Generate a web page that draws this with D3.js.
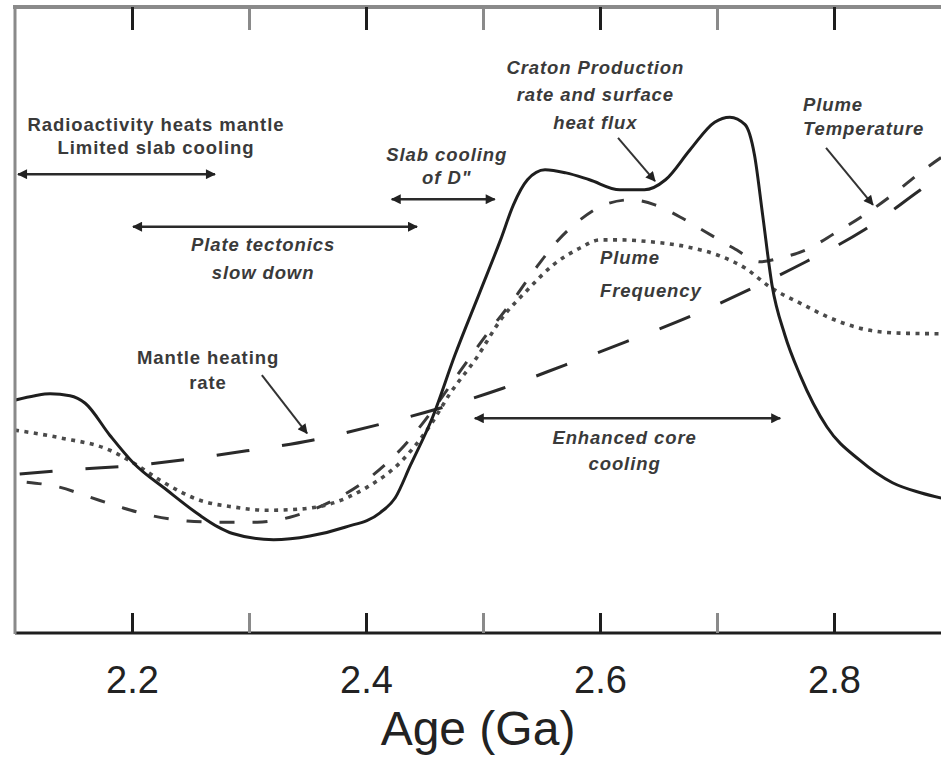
<!DOCTYPE html>
<html>
<head>
<meta charset="utf-8">
<script src="https://cdn.jsdelivr.net/npm/d3@7"></script>
<style>
  html, body { margin: 0; padding: 0; background: #fff; }
  svg { display: block; }
</style>
</head>
<body>
<div id="chart"></div>
<script>
/* Age (Ga) vs relative level — four model curves */

// ── data: [age Ga, relative level 0–100] ──
const cratonProduction = [
  [2.100, 37.2], [2.117, 37.9], [2.130, 38.2], [2.147, 37.9], [2.160, 36.7],
  [2.181, 31.6], [2.201, 27.2], [2.230, 22.8], [2.258, 18.8], [2.273, 17.0],
  [2.286, 15.9], [2.321, 14.9], [2.352, 15.5], [2.382, 16.9], [2.412, 19.2],
  [2.425, 21.6], [2.438, 26.8], [2.457, 34.5], [2.476, 44.4], [2.497, 54.3],
  [2.515, 62.8], [2.526, 68.4], [2.538, 72.4], [2.553, 74.0], [2.571, 73.5],
  [2.591, 72.4], [2.617, 70.8], [2.638, 70.8], [2.656, 72.4], [2.677, 77.2],
  [2.698, 81.6], [2.711, 82.4], [2.724, 81.2], [2.732, 76.4], [2.739, 66.8],
  [2.747, 55.6], [2.758, 47.6], [2.771, 41.2], [2.794, 32.9], [2.822, 27.6],
  [2.850, 24.0], [2.874, 22.4], [2.895, 21.4]
];
const plumeFrequency = [
  [2.100, 32.4], [2.138, 31.2], [2.181, 29.2], [2.201, 27.2], [2.224, 24.4],
  [2.258, 21.2], [2.288, 20.1], [2.315, 19.6], [2.344, 19.8], [2.369, 20.6],
  [2.401, 23.3], [2.429, 27.2], [2.455, 33.2], [2.472, 38.3], [2.495, 44.1],
  [2.515, 50.0], [2.538, 54.8], [2.560, 58.8], [2.583, 61.5], [2.600, 62.8],
  [2.617, 62.8], [2.643, 62.5], [2.674, 61.7], [2.703, 60.2], [2.724, 58.3],
  [2.745, 55.3], [2.771, 52.7], [2.797, 50.3], [2.822, 48.7], [2.856, 47.9],
  [2.895, 47.8]
];
const plumeTemperature = [
  [2.110, 24.1], [2.138, 23.3], [2.164, 21.7], [2.192, 20.0], [2.218, 18.7],
  [2.247, 17.9], [2.275, 17.7], [2.307, 17.7], [2.335, 18.5], [2.369, 20.9],
  [2.403, 24.8], [2.433, 30.0], [2.457, 35.6], [2.480, 41.7], [2.506, 48.4],
  [2.527, 53.5], [2.546, 58.5], [2.563, 62.5], [2.583, 66.0], [2.604, 68.4],
  [2.626, 69.2], [2.647, 68.4], [2.668, 66.5], [2.690, 64.1], [2.714, 61.5],
  [2.737, 59.3], [2.754, 59.9], [2.776, 61.2], [2.801, 63.9], [2.826, 66.8],
  [2.850, 70.0], [2.874, 73.6], [2.895, 76.4]
];
const mantleHeating = [
  [2.104, 25.4], [2.156, 26.2], [2.198, 26.7], [2.241, 27.6], [2.298, 29.1],
  [2.354, 30.8], [2.409, 33.2], [2.463, 35.9], [2.517, 39.1], [2.570, 42.8],
  [2.622, 46.5], [2.676, 50.5], [2.727, 54.8], [2.776, 59.3], [2.826, 64.4],
  [2.874, 70.8], [2.895, 73.6]
];

const majorTicks = [2.2, 2.4, 2.6, 2.8];
const minorTicks = [2.3, 2.5, 2.7];
const xLabel = 'Age (Ga)';

// ── annotations (placed in data units) ──
const labels = [
  { lines: ['Radioactivity heats mantle', 'Limited slab cooling'], age: 2.2205, lvl: [80.2, 76.5], italic: false, anchor: 'middle' },
  { lines: ['Plate tectonics', 'slow down'], age: 2.312, lvl: [61.0, 56.5], italic: true, anchor: 'middle' },
  { lines: ['Slab cooling', 'of D"'], age: 2.469, lvl: [75.4, 71.7], italic: true, anchor: 'middle' },
  { lines: ['Craton Production', 'rate and surface', 'heat flux'], age: 2.596, lvl: [89.3, 85.0, 80.5], italic: true, anchor: 'middle' },
  { lines: ['Plume', 'Temperature'], age: 2.7735, lvl: [83.4, 79.6], italic: true, anchor: 'start' },
  { lines: ['Plume', 'Frequency'], age: 2.600, lvl: [58.9, 53.7], italic: true, anchor: 'start' },
  { lines: ['Mantle heating', 'rate'], age: 2.265, lvl: [43.0, 39.0], italic: false, anchor: 'middle' },
  { lines: ['Enhanced core', 'cooling'], age: 2.621, lvl: [30.2, 26.0], italic: true, anchor: 'middle' }
];
// double-headed range arrows: [from age, to age, level]
const spans = [
  [2.1026, 2.2709, 73.3],
  [2.2009, 2.4436, 64.9],
  [2.4220, 2.5100, 69.3],
  [2.4930, 2.7540, 34.3]
];
// pointer arrows: [from age, from lvl, to age, to lvl]
const pointers = [
  [2.6154, 79.1, 2.6470, 72.2],
  [2.7932, 77.5, 2.8333, 68.4],
  [2.3110, 41.2, 2.3496, 31.9]
];

const W = 941, H = 758;
const x = d3.scaleLinear().domain([2.1, 2.9]).range([15, 951]);
const y = d3.scaleLinear().domain([0, 100]).range([633, 7]);

const svg = d3.select('#chart').append('svg')
  .attr('width', W).attr('height', H)
  .style('font-family', "'Liberation Sans', Arial, sans-serif");

const defs = svg.append('defs');
defs.append('marker')
  .attr('id', 'head')
  .attr('viewBox', '0 0 10 10')
  .attr('refX', 9).attr('refY', 5)
  .attr('markerUnits', 'userSpaceOnUse')
  .attr('markerWidth', 12).attr('markerHeight', 10)
  .attr('orient', 'auto-start-reverse')
  .append('path').attr('d', 'M0,0 L10,5 L0,10 z').attr('fill', '#222');
defs.append('clipPath').attr('id', 'plot')
  .append('rect').attr('x', 16).attr('y', 8).attr('width', W).attr('height', 624);

// ── curves ──
const line = d3.line()
  .x(d => x(d[0])).y(d => y(d[1]))
  .curve(d3.curveMonotoneX);

const curves = svg.append('g').attr('clip-path', 'url(#plot)');
const series = [
  { data: mantleHeating,    stroke: '#2a2a2a', width: 3,   dash: '33,33' },
  { data: plumeTemperature, stroke: '#3a3a3a', width: 3,   dash: '15,18' },
  { data: plumeFrequency,   stroke: '#4a4a4a', width: 3.6, dash: '4,5.5' },
  { data: cratonProduction, stroke: '#1e1e1e', width: 3,   dash: null }
];
curves.selectAll('path')
  .data(series)
  .join('path')
  .attr('d', d => line(d.data))
  .attr('fill', 'none')
  .attr('stroke', d => d.stroke)
  .attr('stroke-width', d => d.width)
  .attr('stroke-dasharray', d => d.dash);

// ── axes ──
const allTicks = [...majorTicks, ...minorTicks].sort();
const bottomAxis = svg.append('g')
  .attr('transform', `translate(0,${y(0)})`)
  .call(d3.axisBottom(x)
    .tickValues(allTicks)
    .tickSizeInner(-20).tickSizeOuter(0)
    .tickPadding(33)
    .tickFormat(d => majorTicks.includes(d) ? d3.format('.1f')(d) : ''));
bottomAxis.select('.domain').attr('stroke', '#1e1e1e').attr('stroke-width', 3)
  .attr('d', `M${x(2.1)},0H${W}`);
bottomAxis.selectAll('.tick line')
  .attr('stroke', d => majorTicks.includes(d) ? '#1e1e1e' : '#8a8a8a')
  .attr('stroke-width', 3);
bottomAxis.selectAll('.tick text')
  .attr('fill', '#222')
  .attr('font-size', 38)
  .attr('font-family', "'Liberation Sans', Arial, sans-serif");

const topAxis = svg.append('g')
  .attr('transform', `translate(0,${y(100)})`)
  .call(d3.axisTop(x)
    .tickValues(allTicks)
    .tickSizeInner(-23).tickSizeOuter(0)
    .tickFormat(''));
topAxis.select('.domain').attr('stroke', '#8a8a8a').attr('stroke-width', 4)
  .attr('d', `M${x(2.1) - 2},0H${W}`);
topAxis.selectAll('.tick line')
  .attr('stroke', d => majorTicks.includes(d) ? '#1e1e1e' : '#8a8a8a')
  .attr('stroke-width', 3);

svg.append('line')
  .attr('x1', x(2.1)).attr('x2', x(2.1))
  .attr('y1', y(100) - 2).attr('y2', y(0) + 1)
  .attr('stroke', '#8a8a8a').attr('stroke-width', 3);

svg.append('text')
  .attr('x', (x(2.1) + W) / 2).attr('y', 745)
  .attr('text-anchor', 'middle')
  .attr('font-size', 48)
  .attr('fill', '#222')
  .text(xLabel);

// ── range arrows ──
svg.append('g').selectAll('line')
  .data(spans)
  .join('line')
  .attr('x1', d => x(d[0])).attr('x2', d => x(d[1]))
  .attr('y1', d => y(d[2])).attr('y2', d => y(d[2]))
  .attr('stroke', '#2a2a2a').attr('stroke-width', 2.5)
  .attr('marker-start', 'url(#head)')
  .attr('marker-end', 'url(#head)');

svg.append('g').selectAll('line')
  .data(pointers)
  .join('line')
  .attr('x1', d => x(d[0])).attr('y1', d => y(d[1]))
  .attr('x2', d => x(d[2])).attr('y2', d => y(d[3]))
  .attr('stroke', '#333').attr('stroke-width', 2)
  .attr('marker-end', 'url(#head)');

// ── labels ──
const lab = svg.append('g')
  .attr('font-weight', 'bold')
  .attr('font-size', 18.5)
  .attr('letter-spacing', 0.9)
  .attr('fill', '#3a3a3a');
labels.forEach(l => {
  l.lines.forEach((t, i) => {
    lab.append('text')
      .attr('x', x(l.age)).attr('y', y(l.lvl[i]))
      .attr('text-anchor', l.anchor)
      .attr('font-style', l.italic ? 'italic' : 'normal')
      .text(t);
  });
});
</script>
</body>
</html>
